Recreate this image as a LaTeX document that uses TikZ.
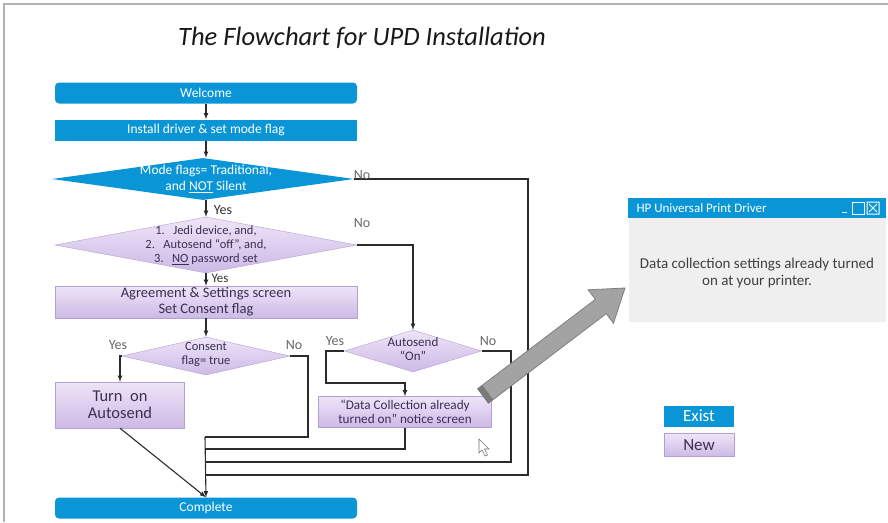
\documentclass[tikz,border=0pt]{standalone}
\usepackage{fontspec}
\setmainfont{Carlito}
\usepackage{xcolor}
\usetikzlibrary{shapes.geometric}

\definecolor{hpblue}{HTML}{0A96D6}
\definecolor{lavtop}{HTML}{EEE5F8}
\definecolor{lavbot}{HTML}{CDB9E6}
\definecolor{lavedge}{HTML}{B4A0D0}
\definecolor{lavtext}{HTML}{3B2F52}
\definecolor{flowline}{HTML}{2B2B2B}
\definecolor{winbg}{HTML}{EFEFEF}

\tikzset{
  bluebar/.style={rectangle, fill=hpblue, text=white, minimum width=302pt, minimum height=21pt, inner sep=0pt, font=\fontsize{13.5}{15}\selectfont},
  lavbox/.style={rectangle, top color=lavtop, bottom color=lavbot, draw=lavedge, text=lavtext, inner sep=0pt, align=center, font=\fontsize{14}{16}\selectfont},
  lavdiam/.style={diamond, top color=lavtop, bottom color=lavbot, draw=lavedge, inner sep=0pt},
  diamtext/.style={text=lavtext, align=center, font=\fontsize{12.5}{14}\selectfont},
  yesno/.style={text=black!60, inner sep=1pt, font=\fontsize{14}{16}\selectfont},
  flow/.style={draw=flowline, line width=1.1pt},
}

\begin{document}
\begin{tikzpicture}[x=1pt, y=-1pt]
                \useasboundingbox (0,0) rectangle (888,522);
                % frame and title
                \draw[black!30, line width=1.2pt] (4,522) -- (4,4) -- (888,4);
                \node[font=\fontsize{26.5}{30}\selectfont\itshape, text=black!90] (title) at (362,38) {The Flowchart for UPD Installation};

                % main column
                \node[bluebar, rounded corners=4pt] (welcome) at (206,93) {Welcome};
                \node[bluebar] (install) at (206,130) {Install driver \& set mode flag};
                \node[diamond, fill=hpblue, inner sep=0pt, minimum width=302pt, minimum height=42pt] (mode) at (203,179) {};
                \node[text=white, align=center, font=\fontsize{13.5}{16}\selectfont] (modetext) at (206,179) {Mode flags= Traditional,\\and \underline{NOT} Silent};
                \node[lavdiam, minimum width=302pt, minimum height=56pt] (jedi) at (206,245) {};
                \node[diamtext, font=\fontsize{12.5}{14}\selectfont] (jeditext) at (206,245) {1.\ \ \ Jedi device, and,\\2.\ \ \ Autosend “off”, and,\\3.\ \ \ \underline{NO} password set};
                \node[lavbox, minimum width=302pt, minimum height=32pt, font=\fontsize{14.5}{16}\selectfont] (agree) at (206,302) {Agreement \& Settings screen\\Set Consent flag};
                \node[lavdiam, minimum width=168pt, minimum height=38pt] (consent) at (206,356) {};
                \node[diamtext, font=\fontsize{12.5}{14}\selectfont] (consenttext) at (206,355) {Consent\\flag= true};
                \node[lavbox, minimum width=129pt, minimum height=46pt, font=\fontsize{16.5}{17}\selectfont] (turnon) at (120,405) {Turn\ \ on\\Autosend};
                \node[bluebar, rounded corners=4pt] (complete) at (206,508) {Complete};

                % right branch
                \node[lavdiam, minimum width=137pt, minimum height=42pt] (autosend) at (413,351) {};
                \node[diamtext, font=\fontsize{13}{14}\selectfont] (autosendtext) at (413,349) {Autosend\\“On”};
                \node[lavbox, minimum width=173pt, minimum height=31pt, font=\fontsize{13.2}{14}\selectfont] (notice) at (405,412) {“Data Collection already\\turned on” notice screen};

                % connectors
                \coordinate (bus) at (205,437);
                \coordinate (modeturn) at (528,475);
                \coordinate (autoturn) at (511,462);
                \coordinate (consturn) at (308,437);
                \coordinate (yesturn) at (326,383);
                \draw[flow,-latex] (welcome) -- (install);
                \draw[flow,-latex] (install) -- (mode.north -| install);
                \draw[flow,-latex] (mode.south -| jedi) -- (jedi.north);
                \draw[flow,-latex] (jedi) -- (agree);
                \draw[flow,-latex] (agree) -- (consent);
                \draw[flow,-latex] (consent.west) -| (turnon.north);
                \draw[flow,-latex] (jedi.east) -| (autosend.north);
                \draw[flow,-latex] (autosend.west) -| (yesturn) -| (notice.north);
                \draw[flow] (mode.east) -| (modeturn) -- (bus |- modeturn);
                \draw[flow] (autosend.east) -| (autoturn) -- (bus |- autoturn);
                \draw[flow] (consent.east) -| (consturn) -- (bus);
                \draw[flow] (notice.south) |- (bus |- 0,449);
                \draw[flow,-latex] (bus) -- (complete.north);
                \draw[flow,-latex] (turnon.south) -- (complete.north);

                % yes / no labels
                \node[yesno, text=black!80] (yes1) at (223,210) {Yes};
                \node[yesno, text=black!80, font=\fontsize{13}{15}\selectfont] (yes2) at (220,278) {Yes};
                \node[yesno] (no1) at (362,175) {No};
                \node[yesno] (no2) at (362,223) {No};
                \node[yesno] (yes3) at (118,345) {Yes};
                \node[yesno] (no3) at (294,345) {No};
                \node[yesno] (yes4) at (335,341) {Yes};
                \node[yesno] (no4) at (488,341) {No};

                % gray pointer arrow
                \fill[black!36, draw=black!50, line width=0.8pt] (488.4,403.2) -- (606.2,313.7) -- (613.5,323.2) -- (625,288)
                    -- (588.1,289.8) -- (595.4,299.3) -- (477.6,388.8) -- cycle;
                \fill[black!52] (488.4,403.2) -- (493.2,399.6) -- (482.4,385.2) -- (477.6,388.8) -- cycle;

                % mouse cursor
                \filldraw[fill=white, draw=black!55, line width=0.6pt] (479,439) -- (479,453) -- (482,450) -- (485,456)
                    -- (487.5,455) -- (484.5,449) -- (489,449) -- cycle;

                % printer driver window
                \node[rectangle, fill=winbg, minimum width=257pt, minimum height=124pt, inner sep=0pt] (hpwin) at (757,260) {};
                \fill[hpblue] (hpwin.north west) rectangle ([yshift=-20pt]hpwin.north east);
                \node[anchor=west, text=white, font=\fontsize{13}{15}\selectfont] (wintitle) at (633,208) {HP Universal Print Driver};
                \draw[white, line width=1pt] (842,212) -- (847,212);
                \draw[white, line width=1pt] (852,202) rectangle (864,214);
                \draw[white, line width=1pt] (867,202) rectangle (879,214) (869,204) -- (877,212) (869,212) -- (877,204);
                \node[text=black!75, align=center, font=\fontsize{15}{17}\selectfont] (wintext) at (757,273) {Data collection settings already turned\\on at your printer.};

                % buttons
                \node[rectangle, fill=hpblue, text=white, minimum width=70pt, minimum height=21pt, inner sep=0pt, font=\fontsize{17}{18}\selectfont] (exist) at (699,416) {Exist};
                \node[lavbox, minimum width=70pt, minimum height=23pt, font=\fontsize{17}{18}\selectfont] (new) at (699,445) {New};
            \end{tikzpicture}
\end{document}
